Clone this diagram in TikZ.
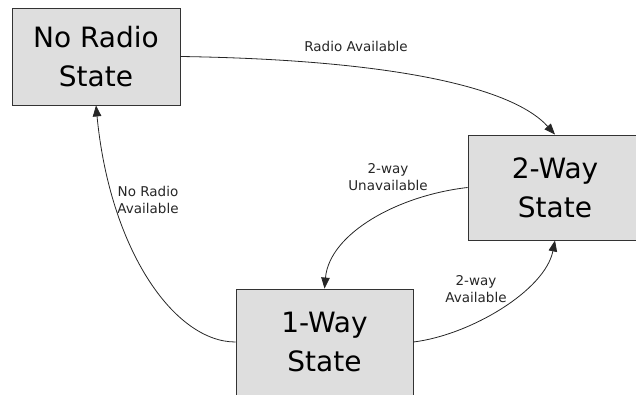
\documentclass[tikz,border=0pt]{standalone}
\usepackage{fontspec}
\setmainfont{DejaVu Sans}
\usetikzlibrary{arrows.meta}

\begin{document}
\begin{tikzpicture}[x=1pt, y=1pt,
  statebox/.style={draw=black!80, fill=black!13, line width=0.9pt, rectangle, align=center,
    font=\fontsize{28}{39}\selectfont, inner sep=0pt},
  trans/.style={draw=black!85, line width=0.8pt, -{Triangle[length=11pt,width=8.5pt]}},
  translabel/.style={align=center, text=black!85, font=\fontsize{13.5}{17}\selectfont, inner sep=0pt}]
\useasboundingbox (0,0) rectangle (636,394);
\clip (0,0) rectangle (636,394);
% states
\node[statebox, minimum width=168pt, minimum height=97pt](noradio) at (96,337.5){No Radio\\State};
\node[statebox, minimum width=174pt, minimum height=105pt](twoway) at (555,206.5){2-Way\\State};
\node[statebox, minimum width=177pt, minimum height=106pt](oneway) at (324.5,52){1-Way\\State};
% labels
\node[translabel](radioav) at (356,348){Radio Available};
\node[translabel](twounav) at (388,217){2-way\\Unavailable};
\node[translabel](twoav) at (476,105){2-way\\Available};
\node[translabel](noradioav) at (148,194){No Radio\\Available};
% transitions
\draw[trans] (noradio.east) .. controls +(200,-3) and +(-45,50) .. (twoway.north);
\draw[trans] (twoway.west) .. controls +(-70,-8) and +(5,55) .. (oneway.north);
\draw[trans] (oneway.east) .. controls +(57,7) and +(-10,-50) .. (twoway.south);
\draw[trans] (oneway.west) .. controls +(-61,0) and +(14,-145) .. (noradio.south);
\end{tikzpicture}
\end{document}
